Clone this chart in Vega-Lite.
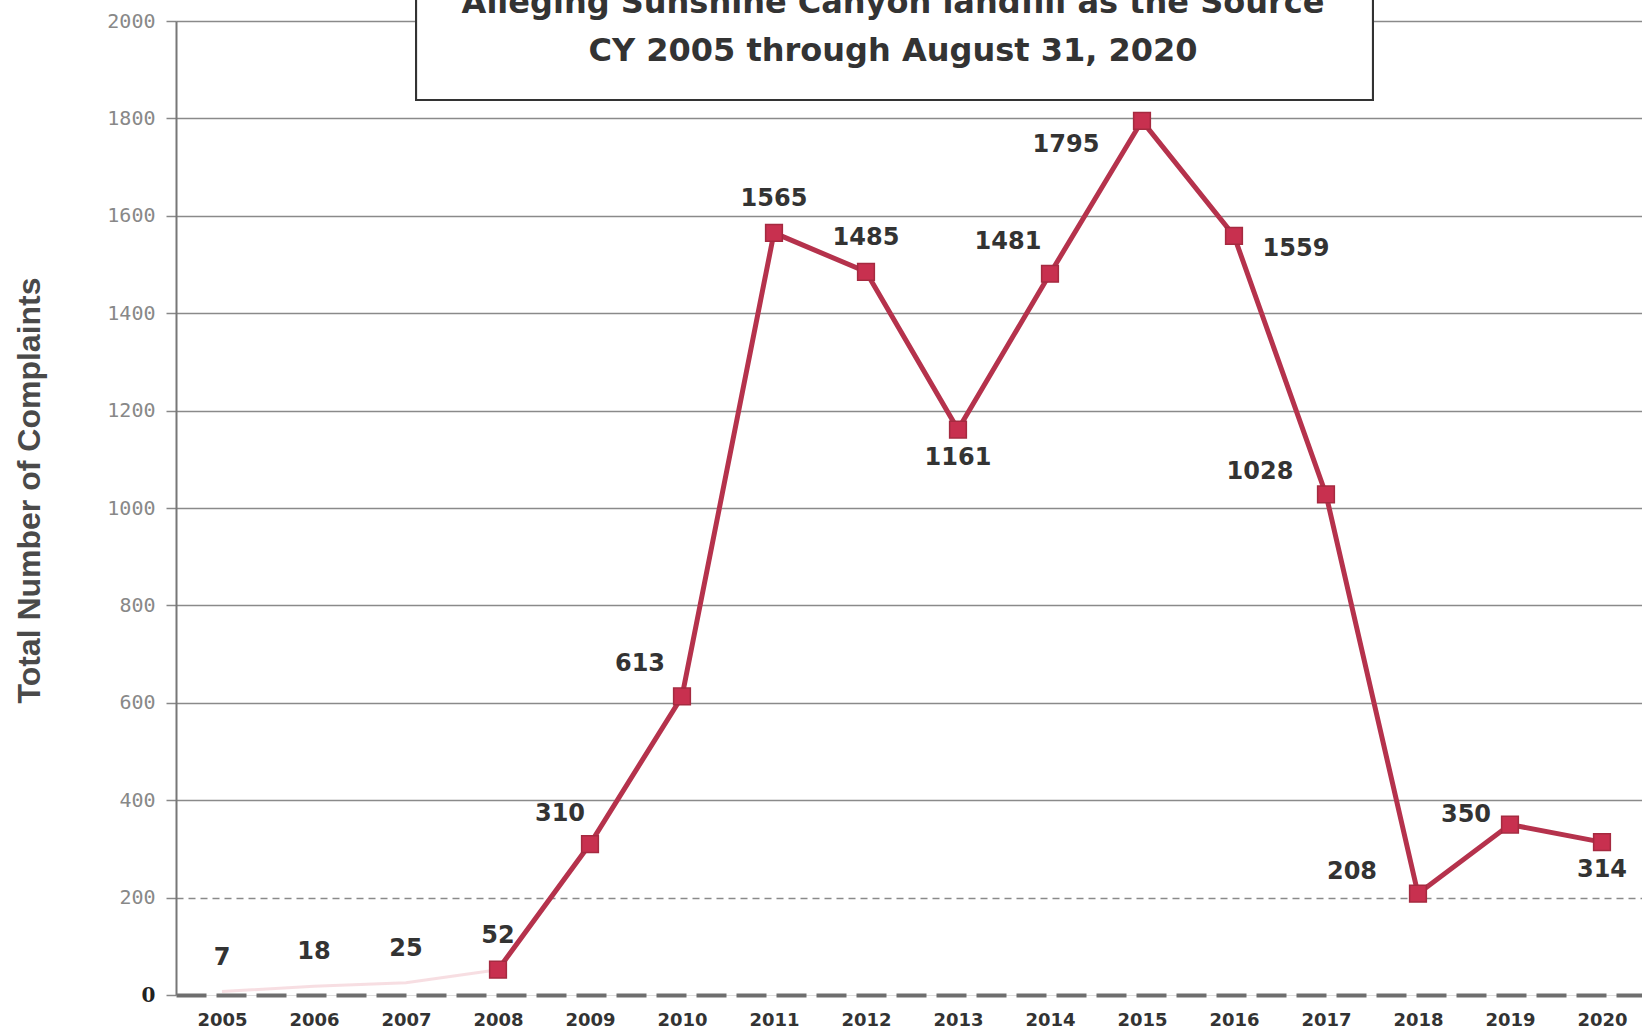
{
  "$schema": "https://vega.github.io/schema/vega-lite/v6.json",
  "width": 1466,
  "height": 974,
  "autosize": {"type": "none"},
  "padding": {"left": 176, "top": 21, "right": 0, "bottom": 40},
  "background": "white",
  "title": {
    "text": ["Alleging Sunshine Canyon landfill as the Source", "CY 2005 through August 31, 2020"],
    "font": "DejaVu Sans",
    "fontSize": 32,
    "fontWeight": "bold",
    "color": "#333333",
    "lineHeight": 48,
    "anchor": "middle",
    "frame": "group",
    "baseline": "alphabetic",
    "offset": 0,
    "dx": -16,
    "dy": 122
  },
  "data": {
    "values": [
      {"year": 2005, "complaints": 7},
      {"year": 2006, "complaints": 18},
      {"year": 2007, "complaints": 25},
      {"year": 2008, "complaints": 52},
      {"year": 2009, "complaints": 310},
      {"year": 2010, "complaints": 613},
      {"year": 2011, "complaints": 1565},
      {"year": 2012, "complaints": 1485},
      {"year": 2013, "complaints": 1161},
      {"year": 2014, "complaints": 1481},
      {"year": 2015, "complaints": 1795},
      {"year": 2016, "complaints": 1559},
      {"year": 2017, "complaints": 1028},
      {"year": 2018, "complaints": 208},
      {"year": 2019, "complaints": 350},
      {"year": 2020, "complaints": 314}
    ]
  },
  "encoding": {
    "x": {
      "field": "year",
      "type": "quantitative",
      "scale": {"domain": [2004.5, 2020.435], "nice": false, "zero": false},
      "axis": {
        "values": [2005, 2006, 2007, 2008, 2009, 2010, 2011, 2012, 2013, 2014, 2015, 2016, 2017, 2018, 2019, 2020],
        "format": "d",
        "title": null,
        "grid": false,
        "domain": false,
        "ticks": false,
        "labelFont": "DejaVu Sans",
        "labelFontWeight": "bold",
        "labelFontSize": 18,
        "labelColor": "#333333",
        "labelPadding": 16
      }
    },
    "y": {
      "field": "complaints",
      "type": "quantitative",
      "scale": {"domain": [0, 2000], "nice": false},
      "axis": {
        "values": [0, 200, 400, 600, 800, 1000, 1200, 1400, 1600, 1800, 2000],
        "format": "d",
        "title": "Total Number of Complaints",
        "titleFont": "Liberation Sans",
        "titleFontSize": 32,
        "titleFontWeight": "bold",
        "titleColor": "#4a4a4a",
        "titleAngle": -90,
        "titleAlign": "center",
        "titleBaseline": "middle",
        "titleX": -147,
        "titleY": 469,
        "grid": true,
        "gridColor": {"condition": {"test": "datum.value == 0", "value": "#6e6e6e"}, "value": "#8a8a8a"},
        "gridWidth": {"condition": {"test": "datum.value == 0", "value": 4}, "value": 1.5},
        "gridDash": {"condition": [{"test": "datum.value == 200", "value": [7, 5]}, {"test": "datum.value == 0", "value": [30, 10]}], "value": []},
        "domainColor": "#777777",
        "domainWidth": 2,
        "tickColor": "#888888",
        "tickWidth": 1.5,
        "tickSize": 10,
        "labelPadding": 11,
        "labelFont": {"condition": {"test": "datum.value == 0", "value": "DejaVu Serif"}, "value": "DejaVu Sans Mono"},
        "labelFontWeight": {"condition": {"test": "datum.value == 0", "value": "bold"}, "value": "normal"},
        "labelColor": {"condition": {"test": "datum.value == 0", "value": "#222222"}, "value": "#888888"},
        "labelFontSize": 20
      }
    }
  },
  "layer": [
    {
      "mark": {"type": "line", "color": "#e8a0ac", "strokeWidth": 3, "opacity": 0.35},
      "transform": [{"filter": "datum.year <= 2008"}]
    },
    {
      "mark": {"type": "line", "color": "#b5324c", "strokeWidth": 5},
      "transform": [{"filter": "datum.year >= 2008"}]
    },
    {
      "mark": {"type": "square", "color": "#c8304f", "filled": true, "size": 280, "stroke": "#a52a40", "strokeWidth": 1.5, "opacity": 1},
      "transform": [{"filter": "datum.year >= 2008"}]
    },
    {
      "mark": {"type": "rect", "fill": "white", "stroke": "#333333", "strokeWidth": 2, "clip": false},
      "encoding": {
        "x": {"datum": 2007.11},
        "x2": {"datum": 2017.51},
        "y": {"datum": 1838},
        "y2": {"datum": 2100}
      }
    },
    {
      "mark": {"type": "text", "font": "DejaVu Sans", "fontWeight": "bold", "fontSize": 24, "color": "#333333", "align": "center", "baseline": "middle", "dy": -34},
      "transform": [{"filter": {"field": "year", "oneOf": [2005, 2006, 2007, 2008, 2011, 2012]}}],
      "encoding": {"text": {"field": "complaints", "type": "quantitative"}}
    },
    {
      "mark": {"type": "text", "font": "DejaVu Sans", "fontWeight": "bold", "fontSize": 24, "color": "#333333", "align": "center", "baseline": "middle", "dx": -30, "dy": -30},
      "transform": [{"filter": {"field": "year", "oneOf": [2009]}}],
      "encoding": {"text": {"field": "complaints", "type": "quantitative"}}
    },
    {
      "mark": {"type": "text", "font": "DejaVu Sans", "fontWeight": "bold", "fontSize": 24, "color": "#333333", "align": "center", "baseline": "middle", "dx": -42, "dy": -32},
      "transform": [{"filter": {"field": "year", "oneOf": [2010, 2014]}}],
      "encoding": {"text": {"field": "complaints", "type": "quantitative"}}
    },
    {
      "mark": {"type": "text", "font": "DejaVu Sans", "fontWeight": "bold", "fontSize": 24, "color": "#333333", "align": "center", "baseline": "middle", "dx": -66, "dy": -22},
      "transform": [{"filter": {"field": "year", "oneOf": [2017, 2018]}}],
      "encoding": {"text": {"field": "complaints", "type": "quantitative"}}
    },
    {
      "mark": {"type": "text", "font": "DejaVu Sans", "fontWeight": "bold", "fontSize": 24, "color": "#333333", "align": "center", "baseline": "middle", "dx": -44, "dy": -10},
      "transform": [{"filter": {"field": "year", "oneOf": [2019]}}],
      "encoding": {"text": {"field": "complaints", "type": "quantitative"}}
    },
    {
      "mark": {"type": "text", "font": "DejaVu Sans", "fontWeight": "bold", "fontSize": 24, "color": "#333333", "align": "center", "baseline": "middle", "dy": 28},
      "transform": [{"filter": {"field": "year", "oneOf": [2013, 2020]}}],
      "encoding": {"text": {"field": "complaints", "type": "quantitative"}}
    },
    {
      "mark": {"type": "text", "font": "DejaVu Sans", "fontWeight": "bold", "fontSize": 24, "color": "#333333", "align": "center", "baseline": "middle", "dx": -76, "dy": 24},
      "transform": [{"filter": {"field": "year", "oneOf": [2015]}}],
      "encoding": {"text": {"field": "complaints", "type": "quantitative"}}
    },
    {
      "mark": {"type": "text", "font": "DejaVu Sans", "fontWeight": "bold", "fontSize": 24, "color": "#333333", "align": "center", "baseline": "middle", "dx": 62, "dy": 13},
      "transform": [{"filter": {"field": "year", "oneOf": [2016]}}],
      "encoding": {"text": {"field": "complaints", "type": "quantitative"}}
    }
  ]
}
